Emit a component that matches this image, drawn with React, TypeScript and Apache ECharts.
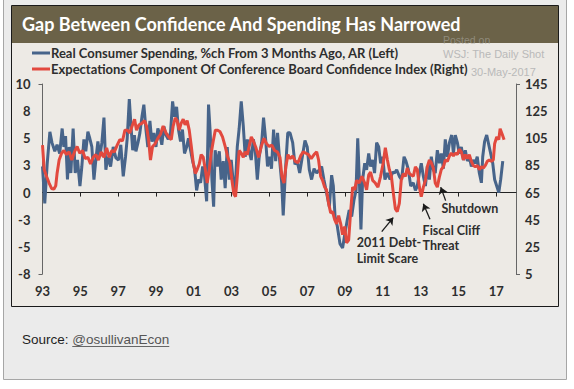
import { useEffect, useRef } from 'react';
import * as echarts from 'echarts';

const TITLE = 'Gap Between Confidence And Spending Has Narrowed';
const LEGEND_SPENDING = 'Real Consumer Spending, %ch From 3 Months Ago, AR (Left)';
const LEGEND_CONF = 'Expectations Component Of Conference Board Confidence Index (Right)';

const xTickYears = [1993, 1995, 1997, 1999, 2001, 2003, 2005, 2007, 2009, 2011, 2013, 2015, 2017];
const rightTicks = [5, 25, 45, 65, 85, 105, 125, 145];

const spendingDates = [
  1993.00, 1993.12, 1993.25, 1993.39, 1993.50, 1993.65, 1993.77, 1993.91, 1994.04, 1994.13, 1994.22, 1994.32, 1994.41, 1994.50, 1994.62, 1994.73, 1994.85, 1994.98,
  1995.08, 1995.19, 1995.29, 1995.40, 1995.50, 1995.61, 1995.72, 1995.82, 1995.93, 1996.03, 1996.14, 1996.25, 1996.35, 1996.46, 1996.60, 1996.74, 1996.88,
  1997.02, 1997.14, 1997.27, 1997.39, 1997.48, 1997.59, 1997.68, 1997.77, 1997.86, 1997.94, 1998.05, 1998.15, 1998.26, 1998.36, 1998.47, 1998.57, 1998.68, 1998.78, 1998.89,
  1999.00, 1999.10, 1999.21, 1999.31, 1999.42, 1999.53, 1999.65, 1999.77, 1999.88, 1999.98, 2000.09, 2000.19, 2000.30, 2000.40, 2000.51, 2000.62, 2000.72, 2000.83, 2000.94,
  2001.04, 2001.15, 2001.25, 2001.36, 2001.47, 2001.57, 2001.68, 2001.78, 2001.87, 2001.96, 2002.05, 2002.13, 2002.24, 2002.35, 2002.45, 2002.56, 2002.66, 2002.77, 2002.88, 2002.98,
  2003.09, 2003.19, 2003.30, 2003.40, 2003.51, 2003.62, 2003.72, 2003.83, 2003.93, 2004.04, 2004.15, 2004.25, 2004.36, 2004.46, 2004.59, 2004.69, 2004.80, 2004.90,
  2005.01, 2005.11, 2005.22, 2005.33, 2005.43, 2005.54, 2005.65, 2005.73, 2005.86, 2005.97, 2006.09, 2006.23, 2006.35, 2006.47, 2006.60, 2006.74, 2006.88,
  2007.00, 2007.11, 2007.23, 2007.36, 2007.50, 2007.64, 2007.76, 2007.88, 2008.03, 2008.17, 2008.29, 2008.38, 2008.47, 2008.59, 2008.73, 2008.87, 2008.99,
  2009.12, 2009.22, 2009.35, 2009.47, 2009.58, 2009.67, 2009.75, 2009.84, 2009.93, 2010.04, 2010.14, 2010.25, 2010.35, 2010.46, 2010.56, 2010.67, 2010.78, 2010.88, 2010.99,
  2011.11, 2011.24, 2011.38, 2011.52, 2011.62, 2011.73, 2011.87, 2011.99, 2012.12, 2012.22, 2012.35, 2012.47, 2012.61, 2012.72, 2012.82, 2012.93,
  2013.03, 2013.14, 2013.25, 2013.35, 2013.46, 2013.56, 2013.67, 2013.77, 2013.88, 2013.99, 2014.09, 2014.20, 2014.30, 2014.41, 2014.52, 2014.64, 2014.73, 2014.83, 2014.94,
  2015.04, 2015.15, 2015.26, 2015.36, 2015.47, 2015.57, 2015.68, 2015.78, 2015.89, 2015.99, 2016.10, 2016.21, 2016.28, 2016.38, 2016.49, 2016.60, 2016.70, 2016.81, 2016.91,
  2017.02, 2017.13, 2017.23, 2017.34,
];
const spendingValues = [
  2.4, -1.0, 2.7, 5.6, 4.6, 3.8, 4.4, 3.6, 5.9, 4.2, 5.2, 1.2, 4.2, 1.8, 5.9, 1.8, 3.0, 0.6,
  2.4, 4.9, 3.8, 5.6, 5.0, 4.2, 1.2, 3.0, 4.7, 3.3, 4.6, 6.9, 2.1, 3.3, 2.4, 4.2, 3.2,
  3.0, 4.4, 1.5, 3.3, 5.0, 8.6, 6.1, 3.9, 5.3, 3.8, 4.6, 5.5, 7.0, 8.1, 5.8, 4.2, 6.6, 4.7, 5.5,
  4.2, 5.9, 5.3, 4.4, 6.1, 5.3, 4.9, 5.5, 8.4, 7.0, 7.9, 5.8, 4.7, 5.8, 3.6, 4.2, 5.0, 3.9, 2.9,
  2.2, 0.2, 1.2, 0.9, 2.4, 1.5, -0.8, 8.1, 5.5, 1.2, -1.3, 3.9, 2.4, 3.8, 1.2, 2.9, 0.4, 4.2, 1.2, 3.0,
  0.9, 0.2, 4.2, 5.9, 8.4, 6.1, 3.3, 4.9, 3.8, 3.0, 4.9, 3.9, 1.2, 3.3, 4.6, 6.9, 4.9, 2.4,
  3.3, 2.2, 5.8, 2.9, 5.5, 3.0, 0.9, -2.1, 2.4, 5.5, 5.5, 4.6, 2.6, 2.9, 1.8, 3.3, 4.8,
  4.2, 2.1, 1.2, 2.2, 1.8, 2.1, 2.4, 1.2, -0.1, -1.3, 1.6, 0.6, -2.2, -3.1, -4.7, -5.1, -3.8,
  -2.5, -1.6, -2.2, -0.7, 0.2, 5.0, 1.5, -3.4, 1.2, 2.7, 2.1, 3.6, 2.4, 3.0, 1.8, 4.6, 4.2, 2.7, 3.3,
  1.2, 1.8, 1.2, 1.9, 1.8, 2.1, 1.5, 1.2, 3.3, 2.9, 2.1, 0.6, 0.9, 0.2, 0.6, 1.8,
  2.7, 1.5, 0.6, 2.4, 1.2, 3.3, 2.1, 1.8, 3.9, 2.7, 3.6, 2.2, 4.9, 3.3, 4.6, 5.3, 3.6, 5.3, 4.6,
  3.6, 4.2, 3.0, 3.9, 2.9, 3.3, 2.4, 3.0, 2.7, 3.3, 1.8, 0.9, 3.3, 4.7, 5.3, 4.4, 3.6, 2.7, 1.2,
  0.6, 0.0, 1.2, 2.9,
];

const confidenceDates = [
  1993.00, 1993.09, 1993.21, 1993.35, 1993.48, 1993.60, 1993.70, 1993.77, 1993.88, 1994.01, 1994.13, 1994.27, 1994.41, 1994.55, 1994.69, 1994.83, 1994.97,
  1995.12, 1995.26, 1995.40, 1995.54, 1995.68, 1995.82, 1995.96, 1996.10, 1996.25, 1996.39, 1996.53, 1996.67, 1996.80, 1996.95,
  1997.09, 1997.23, 1997.36, 1997.48, 1997.62, 1997.74, 1997.87, 1997.97, 1998.11, 1998.25, 1998.40, 1998.50, 1998.61, 1998.71, 1998.82, 1998.96,
  1999.10, 1999.24, 1999.38, 1999.53, 1999.67, 1999.81, 1999.91, 2000.02, 2000.12, 2000.23, 2000.33, 2000.44, 2000.54, 2000.65, 2000.76, 2000.87, 2000.97,
  2001.08, 2001.18, 2001.29, 2001.39, 2001.50, 2001.61, 2001.71, 2001.82, 2001.92, 2002.03, 2002.14, 2002.24, 2002.38, 2002.52, 2002.66, 2002.80, 2002.91,
  2003.01, 2003.12, 2003.21, 2003.30, 2003.40, 2003.51, 2003.62, 2003.72, 2003.83, 2003.93, 2004.04, 2004.15, 2004.29, 2004.43, 2004.57, 2004.71, 2004.85, 2004.99,
  2005.13, 2005.27, 2005.42, 2005.56, 2005.66, 2005.77, 2005.87, 2005.98, 2006.09, 2006.23, 2006.37, 2006.51, 2006.65, 2006.79, 2006.93,
  2007.07, 2007.21, 2007.36, 2007.50, 2007.60, 2007.71, 2007.81, 2007.92, 2008.02, 2008.13, 2008.24, 2008.34, 2008.45, 2008.55, 2008.66, 2008.77, 2008.87, 2008.98,
  2009.08, 2009.19, 2009.29, 2009.40, 2009.51, 2009.61, 2009.75, 2009.89, 2010.04, 2010.14, 2010.25, 2010.35, 2010.46, 2010.60, 2010.74, 2010.88,
  2011.02, 2011.13, 2011.24, 2011.34, 2011.45, 2011.55, 2011.66, 2011.76, 2011.87, 2011.97, 2012.08, 2012.19, 2012.29, 2012.40, 2012.50, 2012.61, 2012.72, 2012.82, 2012.93,
  2013.03, 2013.14, 2013.25, 2013.35, 2013.46, 2013.56, 2013.67, 2013.77, 2013.88, 2013.98, 2014.09, 2014.20, 2014.30, 2014.41, 2014.52, 2014.62, 2014.73, 2014.83, 2014.94,
  2015.04, 2015.15, 2015.26, 2015.36, 2015.47, 2015.57, 2015.68, 2015.78, 2015.89, 2015.99, 2016.10, 2016.21, 2016.31, 2016.42, 2016.52, 2016.63, 2016.73, 2016.84, 2016.91,
  2017.02, 2017.13, 2017.20, 2017.31, 2017.41,
];
const confidenceValues = [
  100, 82, 77, 72, 68, 67.5, 70, 79, 89, 94, 96, 93, 95, 89, 95, 99, 94,
  96, 90, 91, 86, 91, 93, 89, 95, 91, 98, 91, 96, 95, 100,
  104, 103, 111, 111, 109, 114, 119, 111, 115, 116, 118, 114, 104, 89, 99, 101,
  105, 108, 114, 109, 106, 104, 114, 120, 118, 111, 116, 119, 115, 118, 111, 99, 87,
  79, 82, 86, 93, 91, 82, 72, 82, 94, 103, 111, 111, 110, 106, 99, 91, 87,
  75, 64, 62, 77, 96, 94, 91, 95, 93, 99, 106, 103, 98, 91, 99, 105, 101, 99,
  100, 96, 95, 91, 77, 72, 84, 93, 90, 92, 88, 87, 92, 95, 94,
  93, 90, 93, 95, 89, 77, 74, 69, 67, 57, 50, 51, 45, 42, 48, 42, 34, 40,
  28, 30, 50, 69, 67, 74, 72, 77, 72, 67, 78, 80, 74, 72, 69, 77,
  87, 98, 89, 82, 77, 65, 53, 51, 57, 74, 79, 77, 83, 79, 78, 77, 84, 82, 69,
  62, 69, 74, 84, 89, 87, 83, 72, 69, 76, 82, 84, 89, 88, 92, 94, 92, 94, 93,
  97, 95, 89, 93, 90, 93, 88, 85, 84, 85, 82, 84, 83, 85, 88, 89, 88, 89, 101,
  106, 104, 112, 108, 104,
];

// annotation texts and arrow anchors, in data units (year, left-axis value)
const annotations = [
  { text: '2011 Debt-', at: [2009.62, -4.64] },
  { text: 'Limit Scare', at: [2009.62, -6.03] },
  { text: 'Fiscal Cliff', at: [2013.1, -3.53] },
  { text: 'Threat', at: [2013.1, -4.92] },
  { text: 'Shutdown', at: [2014.1, -1.5] },
];
const arrows = [
  { from: [2010.94, -3.6], to: [2011.55, -2.3] },
  { from: [2013.49, -2.45], to: [2013.14, -1.04] },
  { from: [2014.32, -0.74], to: [2014.06, 0.5] },
];

const FONT = 'Lato, "Noto Sans", sans-serif';
const BLUE = '#47648a';
const RED = '#e2493e';
const INK = '#2e2e2e';

function roundAway(v: number) {
  const r = Math.sign(v) * Math.round(Math.abs(v));
  return String(r === 0 ? 0 : r);
}

export default function App() {
  const ref = useRef<HTMLDivElement>(null);
  useEffect(() => {
    const chart = echarts.init(ref.current!, null, { renderer: 'svg' });
    const spending = spendingDates.map((d, i) => [d, spendingValues[i]]);
    const confidence = confidenceDates.map((d, i) => [d, confidenceValues[i]]);

    const option: any = {
      animation: false,
      grid: { left: 42.5, right: 58, top: 84, bottom: 115, containLabel: false },
      xAxis: [
        {
          type: 'value', min: 1993, max: 2018.04,
          axisLine: { show: true, onZero: true, lineStyle: { color: '#222', width: 1 } },
          axisTick: { show: true, length: 4, customValues: xTickYears.slice(1), lineStyle: { color: '#222' } },
          axisLabel: { show: false },
          splitLine: { show: false },
        },
        {
          type: 'value', min: 1993, max: 2018.04, position: 'bottom',
          axisLine: { show: false, onZero: false },
          axisTick: { show: false },
          splitLine: { show: false },
          axisLabel: {
            show: true, margin: 10, customValues: xTickYears,
            formatter: (v: number) => String(Math.round(v) % 100).padStart(2, '0'),
            fontFamily: FONT, fontWeight: 'bold', fontSize: 13, color: INK,
          },
        },
      ],
      yAxis: [
        {
          type: 'value', position: 'left', min: -7.5, max: 10, interval: 2.5,
          axisLine: { show: true, lineStyle: { color: '#666' } },
          axisTick: { show: true, length: 4, customValues: [-7.5, 10], lineStyle: { color: '#666' } },
          splitLine: { show: false },
          axisLabel: { margin: 12, formatter: roundAway, fontFamily: FONT, fontWeight: 'bold', fontSize: 13, color: INK },
        },
        {
          type: 'value', position: 'right', min: 5, max: 145,
          axisLine: { show: true, lineStyle: { color: '#666' } },
          axisTick: { show: true, length: 4, customValues: [5, 145], lineStyle: { color: '#666' } },
          splitLine: { show: false },
          axisLabel: { margin: 9, customValues: rightTicks, fontFamily: FONT, fontWeight: 'bold', fontSize: 13, color: INK },
        },
      ],
      series: [
        {
          name: LEGEND_SPENDING, type: 'line', xAxisIndex: 0, yAxisIndex: 0, data: spending,
          showSymbol: false, symbol: 'none', lineStyle: { color: BLUE, width: 3 }, itemStyle: { color: BLUE }, z: 3,
          markLine: {
            silent: true, symbol: ['none', 'arrow'], symbolSize: 7,
            lineStyle: { color: '#1a1a1a', width: 1.3, type: 'solid' },
            label: { show: false },
            data: arrows.map((a) => [{ coord: a.from }, { coord: a.to }]),
          },
        },
        {
          name: LEGEND_CONF, type: 'line', xAxisIndex: 0, yAxisIndex: 1, data: confidence,
          showSymbol: false, symbol: 'none', lineStyle: { color: RED, width: 3 }, itemStyle: { color: RED }, z: 4,
        },
      ],
    };
    chart.setOption(option);

    // measure link width for the underline
    const ctx = document.createElement('canvas').getContext('2d')!;
    ctx.font = '13.5px "Liberation Sans", Arial, sans-serif';
    const srcW = ctx.measureText('Source: ').width;
    const linkW = ctx.measureText('@osullivanEcon').width;

    const annot = annotations.map((a) => {
      const p = chart.convertToPixel({ xAxisIndex: 0, yAxisIndex: 0 }, a.at as number[]) as number[];
      return {
        type: 'text', x: p[0], y: p[1], z: 10,
        style: { text: a.text, fill: INK, font: `bold 12.5px ${FONT}`, textAlign: 'left', textVerticalAlign: 'middle' },
      };
    });

    chart.setOption({
      graphic: [
        { type: 'rect', z: -20, shape: { x: 3.5, y: -2, width: 563, height: 381.5 }, style: { fill: '#ebebeb', stroke: '#a6a6a6', lineWidth: 1 } },
        { type: 'rect', z: -19, shape: { x: 11.5, y: 5.5, width: 547, height: 301 }, style: { fill: '#edeae5', stroke: '#1a1a1a', lineWidth: 1 } },
        { type: 'rect', z: -18, shape: { x: 12, y: 6, width: 546, height: 37 }, style: { fill: '#6b6248' } },
        { type: 'text', z: -17, x: 22, y: 23.5, style: { text: TITLE, fill: '#ffffff', font: `bold 18px ${FONT}`, textVerticalAlign: 'middle' } },
        { type: 'text', z: -17, x: 443, y: 40, style: { text: 'Posted on', fill: 'rgba(170,168,160,0.6)', font: '10.5px "Liberation Sans", Arial, sans-serif', textVerticalAlign: 'middle' } },
        { type: 'text', z: -17, x: 443, y: 54, style: { text: 'WSJ: The Daily Shot', fill: '#b9b9b9', font: '11px "Liberation Sans", Arial, sans-serif', textVerticalAlign: 'middle' } },
        { type: 'text', z: -17, x: 471, y: 72, style: { text: '30-May-2017', fill: '#b9b9b9', font: '11px "Liberation Sans", Arial, sans-serif', textVerticalAlign: 'middle' } },
        { type: 'line', z: 5, shape: { x1: 32, y1: 53, x2: 50, y2: 53 }, style: { stroke: BLUE, lineWidth: 3 } },
        { type: 'text', z: 5, x: 51, y: 53, style: { text: LEGEND_SPENDING, fill: INK, font: `bold 13px ${FONT}`, textVerticalAlign: 'middle' } },
        { type: 'line', z: 5, shape: { x1: 32, y1: 69, x2: 50, y2: 69 }, style: { stroke: RED, lineWidth: 3 } },
        { type: 'text', z: 5, x: 51, y: 69, style: { text: LEGEND_CONF, fill: INK, font: `bold 13px ${FONT}`, textVerticalAlign: 'middle' } },
        { type: 'text', z: 5, x: 22, y: 339, style: { text: 'Source: ', fill: '#1f1f1f', font: '13.5px "Liberation Sans", Arial, sans-serif', textVerticalAlign: 'middle' } },
        { type: 'text', z: 5, x: 22 + srcW, y: 339, style: { text: '@osullivanEcon', fill: '#555555', font: '13.5px "Liberation Sans", Arial, sans-serif', textVerticalAlign: 'middle' } },
        { type: 'line', z: 5, shape: { x1: 22 + srcW, y1: 346.5, x2: 22 + srcW + linkW, y2: 346.5 }, style: { stroke: '#666', lineWidth: 1 } },
        ...annot,
      ],
    });
    return () => chart.dispose();
  }, []);
  return <div ref={ref} style={{ position: 'absolute', left: 0, top: 0, width: 574, height: 389, background: '#ffffff' }} />;
}
